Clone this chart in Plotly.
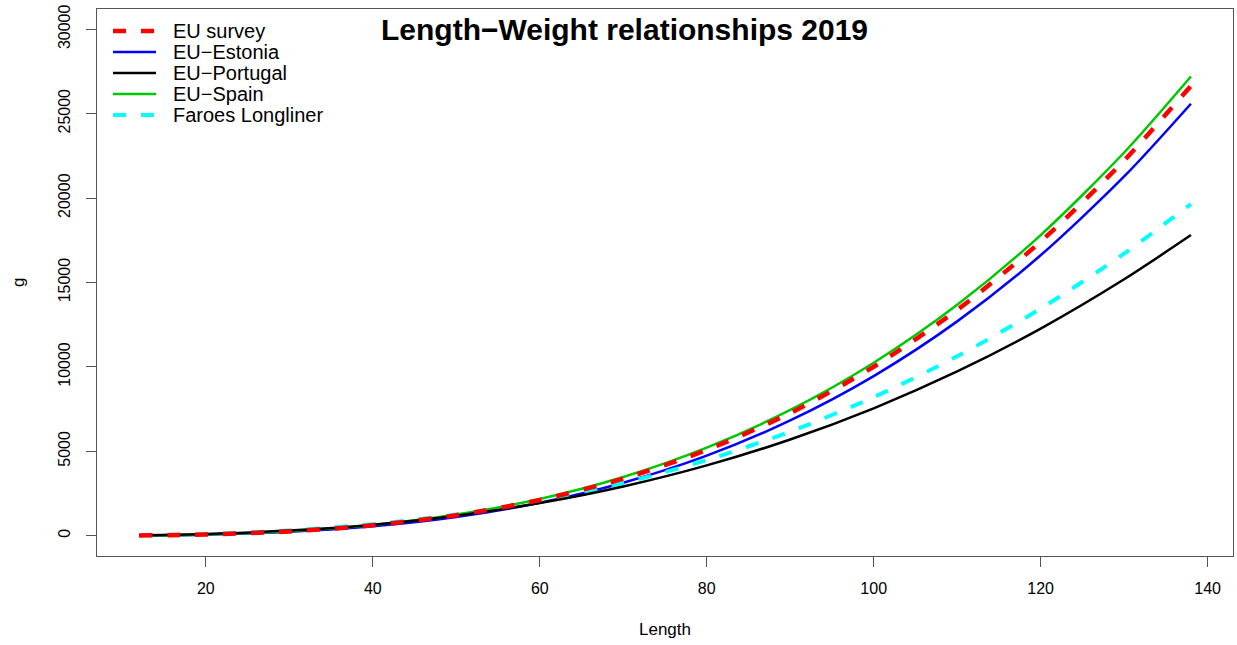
import plotly.graph_objects as go

# Fish length (cm) at which each fitted curve is evaluated
length_cm = [12, 20, 30, 40, 50, 60, 70, 80, 90, 100, 110, 120, 130, 138]

# Predicted weight (g) for each fleet / survey
eu_survey = [16, 75, 258, 618, 1217, 2119, 3384, 5081, 7268, 10010, 13374, 17423, 22227, 26650]
eu_estonia = [14, 65, 229, 557, 1111, 1951, 3141, 4746, 6831, 9459, 12697, 16613, 21279, 25590]
eu_portugal = [27, 104, 305, 657, 1190, 1935, 2918, 4165, 5702, 7549, 9731, 12270, 15190, 17810]
eu_spain = [17, 78, 267, 638, 1255, 2179, 3477, 5215, 7450, 10250, 13680, 17810, 22700, 27200]
faroes_longliner = [26, 105, 314, 685, 1255, 2056, 3122, 4484, 6170, 8209, 10628, 13453, 16714, 19650]

x_ticks = [20, 40, 60, 80, 100, 120, 140]
y_ticks = [0, 5000, 10000, 15000, 20000, 25000, 30000]
y_tick_labels = ["0", "5000", "10000", "15000", "20000", "25000", "30000"]

FONT = "Liberation Sans, Arial, Helvetica, sans-serif"
W, H = 1237, 645
M_L, M_R, M_T, M_B = 97, 4, 9, 89
PW = W - M_L - M_R
PH = H - M_T - M_B

# name, values, colour, width, dash  (legend order)
series = [
    ("EU survey", eu_survey, "#FF0000", 4.5, "13px,15px"),
    ("EU\u2212Estonia", eu_estonia, "#0000FF", 2.5, "solid"),
    ("EU\u2212Portugal", eu_portugal, "#000000", 2.5, "solid"),
    ("EU\u2212Spain", eu_spain, "#00C800", 2.5, "solid"),
    ("Faroes Longliner", faroes_longliner, "#00FFFF", 4.0, "13px,15px"),
]

# drawing order: survey curve last so it sits on top
draw_order = [1, 3, 4, 2, 0]

fig = go.Figure()
for i in draw_order:
    name, vals, col, lw, dash = series[i]
    fig.add_trace(go.Scatter(
        x=length_cm, y=vals, mode="lines", name=name, showlegend=False,
        line=dict(color=col, width=lw, dash=dash, shape="spline", smoothing=0.8),
    ))

# hand-drawn legend in the top-left corner of the panel
shapes = []
annotations = []
row_y0, row_step = 31, 21
for k, (name, vals, col, lw, dash) in enumerate(series):
    ypx = row_y0 + k * row_step
    yp = 1 - (ypx - M_T) / PH
    shapes.append(dict(
        type="line", xref="paper", yref="paper",
        x0=(113 - M_L) / PW, x1=(156 - M_L) / PW, y0=yp, y1=yp,
        line=dict(color=col, width=lw, dash=dash),
    ))
    annotations.append(dict(
        xref="paper", yref="paper", x=(171 - M_L) / PW, y=yp,
        xanchor="left", yanchor="middle", showarrow=False, text=name,
        font=dict(family=FONT, size=20, color="black"),
    ))

# title
annotations.append(dict(
    xref="paper", yref="paper", x=(624 - M_L) / PW, y=1, yshift=-(29 - M_T),
    xanchor="center", yanchor="middle", showarrow=False,
    text="<b>Length\u2212Weight relationships 2019</b>",
    font=dict(family=FONT, size=30, color="black"),
))
# axis titles
annotations.append(dict(
    xref="paper", yref="paper", x=0.5, y=0, yshift=-(629 - (H - M_B)),
    xanchor="center", yanchor="middle", showarrow=False, text="Length",
    font=dict(family=FONT, size=17, color="black"),
))
annotations.append(dict(
    xref="paper", yref="paper", x=0, xshift=-(M_L - 18), y=(H - M_B - 283) / PH,
    xanchor="center", yanchor="middle", showarrow=False, text="g", textangle=-90,
    font=dict(family=FONT, size=17, color="black"),
))

axis_common = dict(
    showgrid=False, zeroline=False, showline=True, mirror=True,
    linecolor="#555555", linewidth=1.2, ticks="outside", ticklen=10,
    tickcolor="#555555", tickwidth=1.2,
    tickfont=dict(family=FONT, size=16, color="black"),
)

fig.update_layout(
    width=W, height=H,
    margin=dict(l=M_L, r=M_R, t=M_T, b=M_B),
    paper_bgcolor="white", plot_bgcolor="white",
    xaxis=dict(range=[6.96, 143.04], tickvals=x_ticks, ticklabelstandoff=8, **axis_common),
    yaxis=dict(range=[-1200, 31200], tickvals=y_ticks, ticktext=y_tick_labels,
               tickangle=-90, ticklabelstandoff=10, **axis_common),
    shapes=shapes, annotations=annotations,
    showlegend=False,
)

fig.write_html("out.html")
